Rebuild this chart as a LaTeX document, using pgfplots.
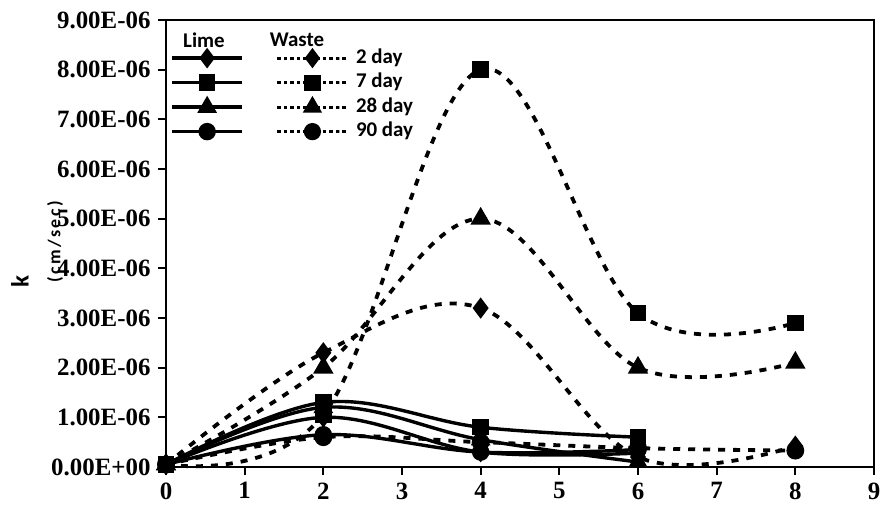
\documentclass[border=0pt]{standalone}
\usepackage{pgfplots}
\pgfplotsset{compat=1.18}
\usepackage{fontspec}
\setmainfont{Liberation Serif}
\newfontfamily\calibri{Carlito}
\newfontfamily\calibrisp[LetterSpace=14]{Carlito}
\begin{document}
\begin{tikzpicture}
\begin{axis}[
  at={(0,0)}, anchor=south west,
  scale only axis, width=708bp, height=447bp,
  xmin=0, xmax=9, ymin=0, ymax=9,
  clip=false,
  axis line style={line width=2bp},
  xtick={0,...,9}, ytick={0,...,9},
  xticklabels={0,1,2,3,4,5,6,7,8,9},
  yticklabels={0.00E+00,1.00E-06,2.00E-06,3.00E-06,4.00E-06,5.00E-06,6.00E-06,7.00E-06,8.00E-06,9.00E-06},
  xtick pos=bottom, ytick pos=left,
  tick align=outside,
  major tick length=8bp,
  major tick style={line width=2bp, black},
  tick label style={font=\fontsize{25}{28}\selectfont\bfseries},
  yticklabel style={xshift=-4bp},
  xticklabel style={yshift=-4bp},
  legend columns=2,
  legend style={draw=none, fill=none, at={(axis description cs:0.006,0.942)}, anchor=north west,
    font=\fontsize{21}{23}\selectfont\calibri\bfseries,
    inner sep=0pt, row sep=0.5bp,
    nodes={inner sep=2bp, text height=15bp, text depth=5bp},
    /tikz/every even column/.style={column sep=23bp},
    /tikz/every odd column/.style={column sep=5bp}},
  legend cell align=left,
  legend image code/.code={\draw[mark repeat=2,mark phase=2,#1] plot coordinates {(0bp,0bp) (35bp,0bp) (70bp,0bp)};},
  every axis plot/.append style={black, smooth, tension=0.6},
  lime/.style={line width=3.4bp, solid, mark options={solid, fill=black}},
  waste/.style={line width=3.8bp, dash pattern=on 7bp off 8bp, mark options={solid, fill=black},
    legend image post style={line width=3.2bp, dash pattern=on 3.5bp off 3bp}},
]
% Lime 2 day
\addplot[lime, mark=diamond*, mark size=7.5bp] coordinates {(0,0.05) (2,1.0) (4,0.3) (6,0.28)};
\addlegendentry{}
% Waste 2 day
\addplot[waste, mark=diamond*, mark size=7.5bp] coordinates {(0,0.05) (2,2.3) (4,3.2) (6,0.2) (8,0.42)};
\addlegendentry{2 day}
% Lime 7 day
\addplot[lime, mark=square*, mark size=6.5bp] coordinates {(0,0.05) (2,1.3) (4,0.8) (6,0.6)};
\addlegendentry{}
% Waste 7 day
\addplot[waste, mark=square*, mark size=6.5bp] coordinates {(0,0.05) (2,1.05) (4,8.0) (6,3.1) (8,2.9)};
\addlegendentry{7 day}
% Lime 28 day
\addplot[lime, mark=triangle*, mark size=8bp] coordinates {(0,0.05) (2,1.2) (4,0.55) (6,0.1)};
\addlegendentry{}
% Waste 28 day
\addplot[waste, mark=triangle*, mark size=8bp] coordinates {(0,0.05) (2,2.0) (4,5.0) (6,2.0) (8,2.1)};
\addlegendentry{28 day}
% Lime 90 day
\addplot[lime, mark=*, mark size=7bp] coordinates {(0,0.05) (2,0.65) (4,0.3) (6,0.35)};
\addlegendentry{}
% Waste 90 day
\addplot[waste, mark=*, mark size=7bp] coordinates {(0,0.05) (2,0.6) (4,0.5) (6,0.38) (8,0.33)};
\addlegendentry{90 day}
\end{axis}
\node[font=\fontsize{21}{23}\selectfont\calibri\bfseries] at (38bp,427bp) {Lime};
\node[font=\fontsize{21}{23}\selectfont\calibri\bfseries] at (131bp,427bp) {Waste};
\node[rotate=90, font=\fontsize{25}{27}\selectfont\calibri\bfseries] at (-146bp,185bp) {k};
\node[rotate=90, font=\fontsize{18}{20}\selectfont\calibrisp\bfseries] at (-111bp,225bp) {(cm/sec)};
\pgfresetboundingbox
\path[use as bounding box] (-166bp,-49bp) rectangle (716bp,467bp);
\end{tikzpicture}
\end{document}
